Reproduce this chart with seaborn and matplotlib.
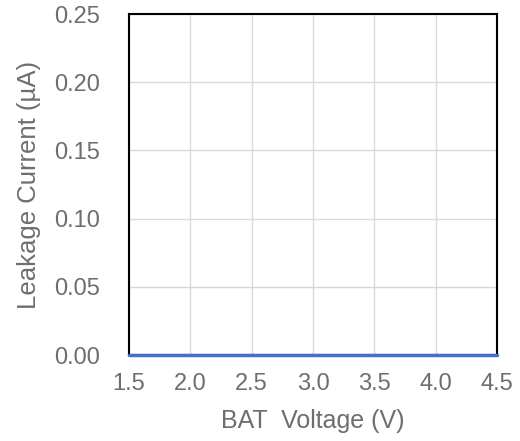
import matplotlib
matplotlib.use('Agg')
import matplotlib.pyplot as plt
import seaborn as sns
import pandas as pd

# 数据
bat_voltage = [1.5, 2.0, 2.5, 3.0, 3.5, 4.0, 4.5]
leakage_current = [0.0, 0.0, 0.0, 0.0, 0.0, 0.0, 0.0]
x_ticks = [1.5, 2.0, 2.5, 3.0, 3.5, 4.0, 4.5]
y_ticks = [0.00, 0.05, 0.10, 0.15, 0.20, 0.25]

sns.set_style('white')
plt.rcParams['font.family'] = ['Liberation Sans', 'DejaVu Sans']

df = pd.DataFrame({'V': bat_voltage, 'I': leakage_current})

fig = plt.figure(figsize=(5.2, 4.41), dpi=100)
ax = fig.add_axes([0.248, 0.195, 0.708, 0.773])

sns.lineplot(data=df, x='V', y='I', ax=ax, color='#4472C4', linewidth=2.5, clip_on=False, zorder=5)

ax.set_xlim(1.5, 4.5)
ax.set_ylim(0, 0.25)
ax.set_xticks(x_ticks)
ax.set_yticks(y_ticks)
ax.set_xticklabels(['%.1f' % x for x in x_ticks])
ax.set_yticklabels(['%.2f' % y for y in y_ticks])
ax.grid(True, color='#D9D9D9', linewidth=1)
ax.tick_params(axis='y', colors='#6E6E6E', labelsize=17, length=0, pad=21)
ax.tick_params(axis='x', colors='#6E6E6E', labelsize=17, length=0, pad=13)
for s in ax.spines.values():
    s.set_color('black')
    s.set_linewidth(1.5)

ax.set_xlabel('BAT  Voltage (V)', color='#6E6E6E', fontsize=18, labelpad=10)
ax.set_ylabel('Leakage Current (µA)', color='#6E6E6E', fontsize=18.5, labelpad=9)

fig.savefig('out.png', dpi=100)
